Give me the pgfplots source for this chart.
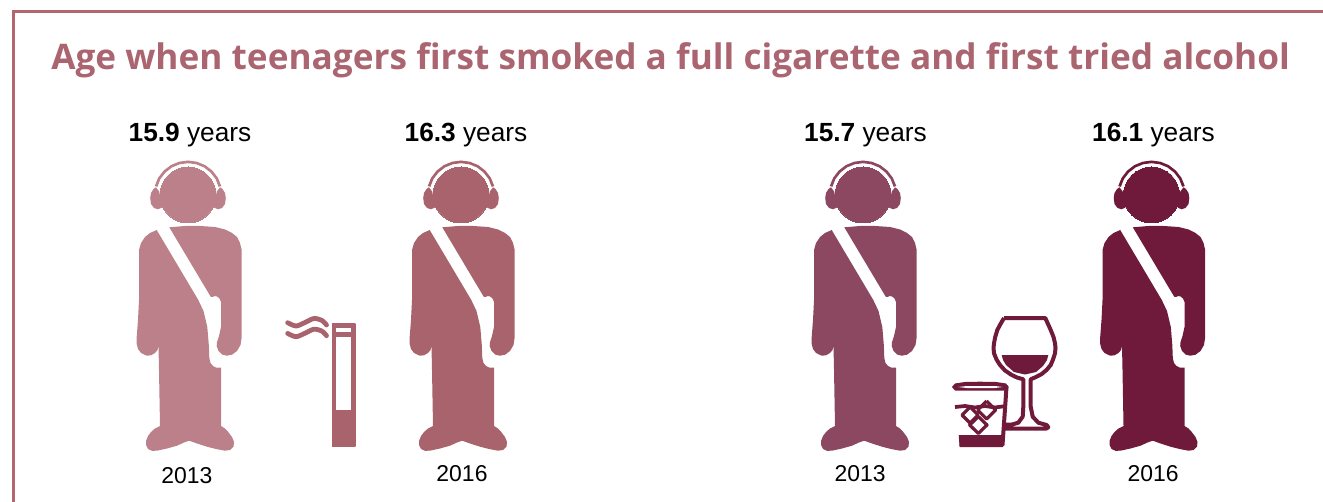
\documentclass[border=0pt]{standalone}
\usepackage{fontspec}
\setmainfont{Liberation Sans}
\newfontfamily\titlefont{Open Sans}
\usepackage{pgfplots}
\usepackage{pgfplotstable}
\pgfplotsset{compat=1.18}

\definecolor{frameC}{HTML}{B4666F}
\definecolor{titleC}{HTML}{AA6570}
\definecolor{tintA}{HTML}{BB8089}
\definecolor{tintB}{HTML}{A9636C}
\definecolor{tintC}{HTML}{8B4860}
\definecolor{tintD}{HTML}{6F1A3A}

% Pictogram outlines in canvas units, y growing downwards
\pgfplotstableread{
x y
156.7 230
150 233
145 237
141 243
139 250
139 300
138 320
136.7 337
136.7 344
138 349
141 353
146.7 355.7
151 355.3
155 353
157.5 350
158.5 346
159 370
160 426
155 428.5
151 432
148 436
146 441
146 445
148 449
152 450.8
157 450.7
167 448.5
177 445.7
184 442.5
189.3 440.7
197 443.5
207 446.7
216 449
225 450.7
230 450
233.5 446.5
234 442
232 437
228 431.7
225 428.5
221 426
221 367.7
216 367.5
213 366
210.5 363
209.3 358
208.8 345
207.3 327
203.5 311
198.3 300
}\torso
\pgfplotstableread{
x y
169.3 227.3
185 226
200 226
215 227
225 229.5
232 233
237 237
240 243
241.7 250
241.7 337
240.5 345
237 351
232 354.7
226.7 355.7
222 354.5
218.5 351
216.7 346
217 342
219 336
221 327
221 302
219.5 298.5
217 296.5
214.5 296
212.5 297
210.7 296.7
}\sidearm
\pgfplotstableread{
x y
154.7 186.1
158.1 177.75
163.6 170.6
170.75 165.1
179.1 161.7
188 160.5
196.9 161.7
205.25 165.1
212.4 170.6
217.9 177.75
221.3 186.1
218.6 186.8
215.6 179.1
210.5 172.5
203.9 167.4
196.3 164.3
188 163.2
179.7 164.3
172.1 167.4
165.5 172.5
160.4 179.1
157.4 186.8
}\headband
\pgfplotstableread{
x y
156 187.3
153.5 189
151 193
150.2 198
151 204
154 208
158 209.3
162 207.5
160.7 200
159.3 191.7
}\earL
\pgfplotstableread{
x y
220 187.3
222.5 189
225 193
225.8 198
225 204
222 208
218 209.3
214 207.5
215.3 200
216.7 191.7
}\earR

\newcommand{\person}[2]{%
  \addplot[fill=#2,draw=none] table[x expr=\thisrow{x}+#1,y=y]{\torso};
  \addplot[fill=#2,draw=none] table[x expr=\thisrow{x}+#1,y=y]{\sidearm};
  \addplot[fill=#2,draw=none] table[x expr=\thisrow{x}+#1,y=y]{\headband};
  \addplot[fill=#2,draw=none] table[x expr=\thisrow{x}+#1,y=y]{\earL};
  \addplot[fill=#2,draw=none] table[x expr=\thisrow{x}+#1,y=y]{\earR};
  \addplot[only marks,mark=*,mark size=21pt,mark options={fill=#2,draw=#2,line width=0pt}]
    coordinates {({188+#1},195)};
}

\begin{document}
\begin{tikzpicture}
\useasboundingbox (0,0) rectangle (992.25pt,376.5pt);
\begin{axis}[
  at={(0,0)}, anchor=south west,
  scale only axis, width=992.25pt, height=376.5pt,
  xmin=0, xmax=1323, ymin=0, ymax=502, y dir=reverse,
  axis lines=none, no marks, clip=true,
]
% frame: top and left rules only
\addplot[frameC,line width=1.9pt] coordinates {(1323,11.5) (13.5,11.5) (13.5,502)};

\person{0}{tintA}
\person{273}{tintB}
\person{675}{tintC}
\person{963.5}{tintD}

% cigarette
\addplot[fill=tintB,draw=tintB,line width=1.5pt,line join=round] coordinates {(331.7,324.3) (354.7,324.3) (354.7,446.3) (331.7,446.3)};
\addplot[fill=white,draw=none] coordinates {(336,328.3) (350.7,328.3) (350.7,332.3) (336,332.3)};
\addplot[fill=white,draw=none] coordinates {(336,337.3) (350.7,337.3) (350.7,410) (336,410)};
\addplot[tintB,line width=3.6pt,line cap=round,smooth] coordinates {(287.7,322.7) (296,326) (305,322.5) (314,318.5) (322,320.5) (326.5,325)};
\addplot[tintB,line width=3.6pt,line cap=round,smooth] coordinates {(287.7,333.4) (296,336.7) (305,333.2) (314,329.2) (322,331.2) (326.5,335.7)};

% wine glass
\addplot[tintD,line width=3pt,line join=round,fill=white] coordinates {
 (1004,318) (1045.3,318) (1048,324) (1050.7,330) (1053.5,337) (1055,343.3) (1055.5,348) (1055,353.3) (1053,359.5) (1050.7,365) (1046.5,370) (1041.7,374)
 (1036,377) (1030.7,379.3) (1030.7,406.7) (1032.7,416.7) (1038.3,422.7) (1046.7,425) (1048.3,427.3)
 (1046,428.7) (1000,428.7) (1000,424.7) (1012,424.5) (1018.3,422.7) (1022.7,416.7) (1023.3,406.7) (1023.3,379.3)
 (1017,377.5) (1011.7,375) (1005,370.5) (1000,365) (996.5,359.5) (994,353.3) (993.5,348) (994,343.3) (995.2,337) (997.3,330) (1000.5,324) (1004,318)};
\addplot[fill=tintD,draw=none] coordinates {
 (1001.7,355) (1048.3,355) (1047,360) (1043,366) (1036,372) (1025,374.5) (1014,372) (1006,365) (1003,360)};

% tumbler
\addplot[tintD,line width=3pt,fill=white,line join=round] coordinates {
 (953.5,387) (1006.5,387) (1002.5,445) (959.5,445)};
\addplot[fill=tintD,draw=none] coordinates {
 (952,387) (955,383.5) (965,382) (980,381.7) (996,382) (1006,383.5) (1008.5,387) (1007,390.5) (955,390.5)};
\addplot[fill=white,draw=none] coordinates {
 (958,387) (967,386) (995,386) (1002.5,387) (995,388) (967,388)};
\addplot[fill=tintD,draw=none] coordinates {(958.7,435) (1003.3,435) (1002.5,446) (959.5,446)};
\addplot[tintD,line width=2.8pt] coordinates {(955,407) (965,406) (975,407.5) (985,406) (995,407.5) (1006,406)};
\addplot[tintD,line width=2.4pt,line join=round] coordinates {(978.3,416.5) (987,425) (978.3,433.5) (969.7,425) (978.3,416.5)};
\addplot[tintD,line width=2.4pt,line join=round] coordinates {(986.7,401) (995.7,410) (986.7,419) (977.7,410) (986.7,401)};
\addplot[tintD,line width=2.4pt,line join=round] coordinates {(970,407) (978,415) (970,423) (962,415) (970,407)};

% captions
\node[anchor=base west,font=\titlefont\bfseries\fontsize{26.4pt}{30pt}\selectfont,text=titleC,inner sep=0pt]
  at (axis cs:51,70) {Age when teenagers first smoked a full cigarette and first tried alcohol};

\node[anchor=base,font=\fontsize{19.7pt}{24pt}\selectfont,inner sep=0pt] at (axis cs:190,142) {\textbf{15.9} years};
\node[anchor=base,font=\fontsize{19.7pt}{24pt}\selectfont,inner sep=0pt] at (axis cs:466,142) {\textbf{16.3} years};
\node[anchor=base,font=\fontsize{19.7pt}{24pt}\selectfont,inner sep=0pt] at (axis cs:865.5,142) {\textbf{15.7} years};
\node[anchor=base,font=\fontsize{19.7pt}{24pt}\selectfont,inner sep=0pt] at (axis cs:1153.5,142) {\textbf{16.1} years};

\node[anchor=base,font=\fontsize{17.2pt}{20pt}\selectfont,inner sep=0pt] at (axis cs:187,483) {2013};
\node[anchor=base,font=\fontsize{17.2pt}{20pt}\selectfont,inner sep=0pt] at (axis cs:462,481) {2016};
\node[anchor=base,font=\fontsize{17.2pt}{20pt}\selectfont,inner sep=0pt] at (axis cs:860,481) {2013};
\node[anchor=base,font=\fontsize{17.2pt}{20pt}\selectfont,inner sep=0pt] at (axis cs:1153,481) {2016};
\end{axis}
\end{tikzpicture}
\end{document}
